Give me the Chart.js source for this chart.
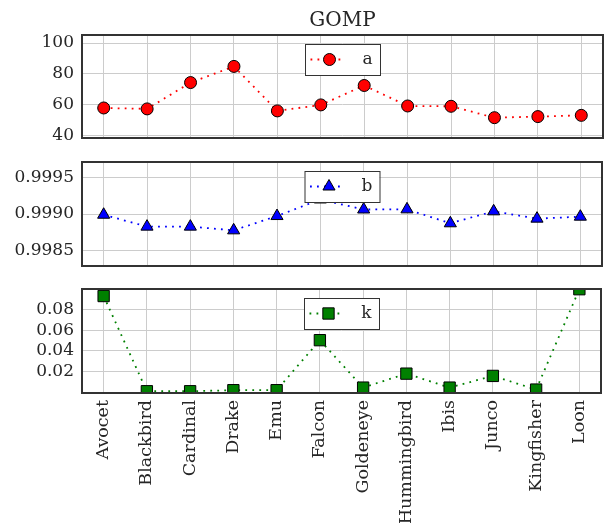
<!DOCTYPE html>
<html>
<head>
<meta charset="utf-8">
<script src="https://cdn.jsdelivr.net/npm/chart.js@4"></script>
<style>
  body { margin: 0; background: #fff; }
  #wrap { position: relative; width: 610px; height: 523px; }
  canvas { position: absolute; left: 0; }
</style>
</head>
<body>
<div id="wrap">
  <canvas id="panelA" width="610" height="150" style="top:0"></canvas>
  <canvas id="panelB" width="610" height="125" style="top:150px"></canvas>
  <canvas id="panelK" width="610" height="248" style="top:275px"></canvas>
</div>
<script>
// data
const categories = ['Avocet', 'Blackbird', 'Cardinal', 'Drake', 'Emu', 'Falcon',
    'Goldeneye', 'Hummingbird', 'Ibis', 'Junco', 'Kingfisher', 'Loon'];
const seriesA = [57.8, 57.2, 74.3, 84.8, 55.9, 59.8, 72.4, 59.1, 58.9, 51.5, 52.2, 53.0];
const seriesB = [0.99899, 0.998826, 0.998826, 0.998775, 0.998972, 0.99920,
    0.999062, 0.999064, 0.998872, 0.999037, 0.998936, 0.998963];
const seriesK = [0.0929, 0.001, 0.001, 0.002, 0.002, 0.0503, 0.0045, 0.018, 0.0045, 0.0158, 0.0026, 0.0995];
const ticksA = [40, 60, 80, 100];
const ticksB = [0.9985, 0.9990, 0.9995];
const ticksK = [0.02, 0.04, 0.06, 0.08];

const FONT = 'DejaVu Serif';
const TEXT = '#262626';
const GRID = '#cccccc';
const DOTS = [1.8, 5.2];

// frame round the plot area + boxed legend in the middle top
function framePlugin(label, color, style, radius) {
    return {
        id: 'frameLegend',
        afterDatasetsDraw(chart) {
            const { ctx, chartArea: a } = chart;
            ctx.save();
            ctx.strokeStyle = '#333333';
            ctx.lineWidth = 2;
            ctx.strokeRect(a.left, a.top, a.right - a.left, a.bottom - a.top);

            const cx = (a.left + a.right) / 2;
            const bx = cx - 37.5, by = a.top + 9, bw = 75, bh = 31;
            ctx.fillStyle = '#ffffff';
            ctx.fillRect(bx, by, bw, bh);
            ctx.lineWidth = 1;
            ctx.strokeStyle = '#333333';
            ctx.strokeRect(bx + 0.5, by + 0.5, bw, bh);

            const my = by + bh / 2;
            ctx.strokeStyle = color;
            ctx.lineWidth = 1.8;
            ctx.setLineDash(DOTS);
            ctx.beginPath();
            ctx.moveTo(cx - 32, my);
            ctx.lineTo(cx + 2, my);
            ctx.stroke();
            ctx.setLineDash([]);

            ctx.fillStyle = color;
            ctx.strokeStyle = '#000000';
            ctx.lineWidth = 1;
            Chart.helpers.drawPoint(ctx, { pointStyle: style, radius: radius, borderWidth: 1 }, cx - 13, my);

            ctx.fillStyle = TEXT;
            ctx.font = '17px "' + FONT + '"';
            ctx.textAlign = 'center';
            ctx.textBaseline = 'middle';
            ctx.fillText(label, cx + 25, my);
            ctx.restore();
        }
    };
}

function makePanel(id, opts) {
    const ctx = document.getElementById(id).getContext('2d');
    return new Chart(ctx, {
        type: 'line',
        data: {
            labels: categories,
            datasets: [{
                label: opts.label,
                data: opts.data,
                borderColor: opts.color,
                borderWidth: 1.8,
                borderDash: DOTS,
                backgroundColor: opts.color,
                pointStyle: opts.style,
                pointRadius: opts.radius,
                pointHoverRadius: opts.radius,
                pointBackgroundColor: opts.color,
                pointBorderColor: '#000000',
                pointBorderWidth: 1,
                tension: 0,
                clip: 0
            }]
        },
        options: {
            responsive: false,
            animation: false,
            devicePixelRatio: 1,
            layout: { padding: opts.padding },
            plugins: {
                legend: { display: false },
                tooltip: { enabled: false },
                title: opts.title ? {
                    display: true,
                    text: opts.title,
                    fullSize: false,
                    color: TEXT,
                    font: { family: FONT, size: 20, weight: 'normal' },
                    padding: { top: 9, bottom: 2 }
                } : { display: false }
            },
            scales: {
                x: {
                    offset: true,
                    border: { display: false },
                    grid: { color: GRID, lineWidth: 1, drawTicks: false, offset: false },
                    ticks: {
                        display: opts.showX,
                        autoSkip: false,
                        minRotation: 90,
                        maxRotation: 90,
                        padding: 7,
                        color: TEXT,
                        font: { family: FONT, size: 17.5 }
                    },
                    afterFit: s => {
                        s.height = opts.xHeight;
                        s.paddingLeft = 0;
                        s.paddingRight = 0;
                    }
                },
                y: {
                    min: opts.min,
                    max: opts.max,
                    border: { display: false },
                    grid: { color: GRID, lineWidth: 1, drawTicks: false },
                    ticks: {
                        padding: 8,
                        color: TEXT,
                        font: { family: FONT, size: 17 },
                        callback: opts.fmt
                    },
                    afterBuildTicks: s => { s.ticks = opts.ticks.map(v => ({ value: v })); },
                    afterFit: s => {
                        s.width = 82;
                        s.paddingTop = 0;
                        s.paddingBottom = 0;
                    }
                }
            }
        },
        plugins: [framePlugin(opts.label, opts.color, opts.style, opts.legendRadius)]
    });
}

makePanel('panelA', {
    label: 'a', data: seriesA, color: '#ff0000', style: 'circle', radius: 6, legendRadius: 6,
    min: 38.3, max: 105.2, ticks: ticksA, fmt: v => String(v),
    title: 'GOMP', showX: false, xHeight: 0,
    padding: { left: 0, right: 1, top: 0, bottom: 12 }
});

makePanel('panelB', {
    label: 'b', data: seriesB, color: '#0000ff', style: 'triangle', radius: 7, legendRadius: 7,
    min: 0.998284, max: 0.999716, ticks: ticksB, fmt: v => v.toFixed(4),
    showX: false, xHeight: 0,
    padding: { left: 0, right: 1, top: 12, bottom: 9 }
});

makePanel('panelK', {
    label: 'k', data: seriesK, color: '#008000', style: 'rect', radius: 8, legendRadius: 8,
    min: -0.0007, max: 0.0997, ticks: ticksK, fmt: v => v.toFixed(2),
    showX: true, xHeight: 130,
    padding: { left: 0, right: 1, top: 14, bottom: 0 }
});
</script>
</body>
</html>
